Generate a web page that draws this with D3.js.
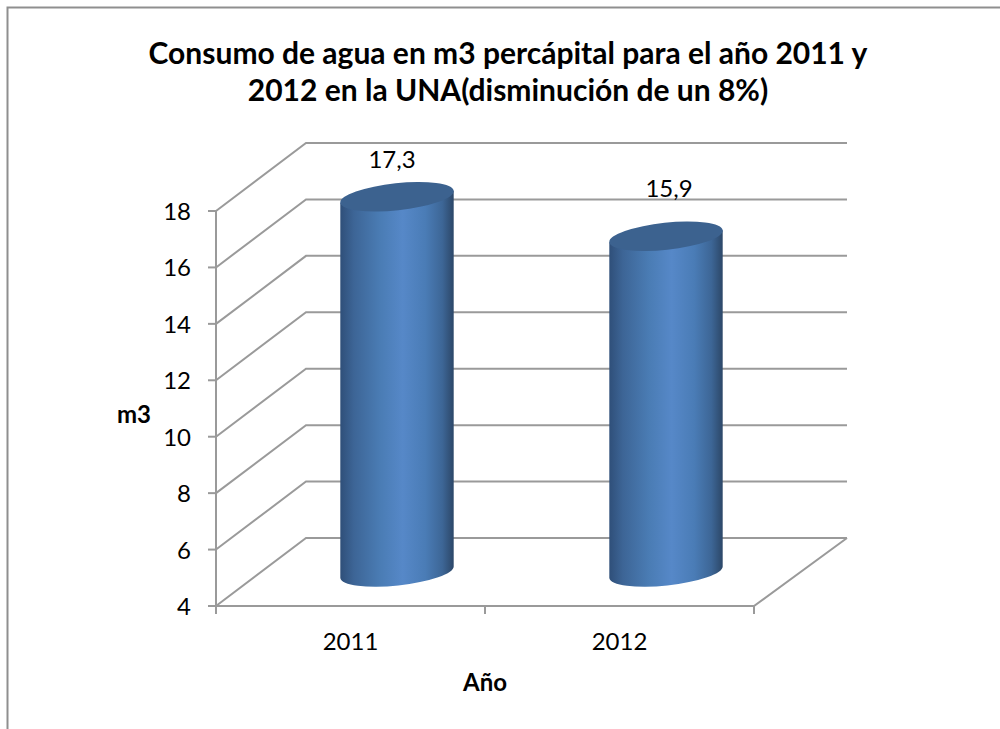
<!DOCTYPE html>
<html><head><meta charset="utf-8">
<script src="https://cdnjs.cloudflare.com/ajax/libs/d3/7.8.5/d3.min.js"></script>
<style>html,body{margin:0;padding:0;background:#fff}svg{display:block}text{font-family:Lato,"Open Sans",sans-serif;fill:#000}</style>
</head><body><svg width="1000" height="729"></svg>
<script>
const categories = ["2011", "2012"];
const values = [17.3, 15.9];
const valueLabels = ["17,3", "15,9"];
const yTicks = [4, 6, 8, 10, 12, 14, 16, 18];
const titleLines = ["Consumo de agua en m3 percápital para el año 2011 y", "2012 en la UNA(disminución de un 8%)"];

const svg = d3.select("svg");
const y = d3.scaleLinear().domain([4, 18]).range([606, 211]);
const x = d3.scaleBand().domain(categories).range([216, 754]);
const depthX = 90, depthY = -68;
const gray = "#9a9a9a";

const defs = svg.append("defs");
const grad = defs.append("linearGradient").attr("id", "cyl").attr("x1", 0).attr("x2", 1).attr("y1", 0).attr("y2", 0);
[[0, "#2f4f79"], [0.12, "#3d6596"], [0.35, "#4a7cb4"], [0.55, "#5688c8"], [0.75, "#4a7cb6"], [0.9, "#3d6696"], [1, "#2c4768"]]
  .forEach(([o, c]) => grad.append("stop").attr("offset", o).attr("stop-color", c));

// frame
svg.append("path").attr("d", "M7.5,729V7.5H1000").attr("fill", "none").attr("stroke", "#8f8f8f").attr("stroke-width", 2);

// back wall gridlines and side wall
const grid = svg.append("g").attr("fill", "none").attr("stroke", gray).attr("stroke-width", 2);
yTicks.forEach(t => {
  grid.append("path").attr("d", `M${x.range()[0]},${y(t)}L${x.range()[0] + depthX},${y(t) + depthY}H${x.range()[1] + 93}`);
});
// floor
grid.append("path").attr("d", `M${x.range()[0]},${y(4)}H${x.range()[1]}L${x.range()[1] + 93},${y(4) + depthY}`);
// y axis + ticks
grid.append("path").attr("d", `M${x.range()[0]},${y(18)}V${y(4) + 8}`);
yTicks.forEach(t => grid.append("path").attr("d", `M${x.range()[0] - 8},${y(t)}H${x.range()[0]}`));
// x ticks
[x.range()[0], x.range()[0] + x.step(), x.range()[1]].forEach(p =>
  grid.append("path").attr("d", `M${p},${y(4)}v8`));

// y tick labels
svg.append("g").selectAll("text").data(yTicks).join("text")
  .attr("x", 191).attr("y", d => y(d) + 9).attr("text-anchor", "end").attr("font-size", 24).text(d => d);

// cylinders
const rx = 57, ry = 13.5, rot = -6, dy = 0.5 * depthY;
const cx = c => x(c) + x.bandwidth() / 2 + depthX / 2 + 1.5;
const a = rot * Math.PI / 180;
const ex = rx * Math.cos(a), ey = rx * Math.sin(a);
const bars = svg.append("g").selectAll("g").data(categories).join("g");
bars.append("path")
  .attr("fill", "url(#cyl)")
  .attr("d", (c, i) => {
    const top = y(values[i]) + dy, bot = y(4) + dy;
    return `M${cx(c) - ex},${top - ey}L${cx(c) - ex},${bot - ey}A${rx},${ry} ${rot} 0 0 ${cx(c) + ex},${bot + ey}L${cx(c) + ex},${top + ey}Z`;
  });
bars.append("ellipse")
  .attr("fill", "#3c628f")
  .attr("rx", rx).attr("ry", ry)
  .attr("transform", (c, i) => `translate(${cx(c)},${y(values[i]) + dy}) rotate(${rot})`);

// value labels
svg.append("g").selectAll("text").data(categories).join("text")
  .attr("x", (c, i) => cx(c) + [-5, 3][i])
  .attr("y", (c, i) => y(values[i]) + dy + [-29, -39][i])
  .attr("text-anchor", "middle").attr("font-size", 24)
  .text((c, i) => valueLabels[i]);

// category labels
svg.append("g").selectAll("text").data(categories).join("text")
  .attr("x", c => x(c) + x.bandwidth() / 2).attr("y", 650)
  .attr("text-anchor", "middle").attr("font-size", 24).text(c => c);

// axis titles
svg.append("text").attr("x", 485).attr("y", 691).attr("text-anchor", "middle").attr("font-size", 24).attr("font-weight", 700).text("Año");
svg.append("text").attr("x", 134).attr("y", 423).attr("text-anchor", "middle").attr("font-size", 24).attr("font-weight", 700).text("m3");

// title
svg.append("g").selectAll("text").data(titleLines).join("text")
  .attr("x", 508).attr("y", (d, i) => 64 + i * 37)
  .attr("text-anchor", "middle").attr("font-size", 30).attr("font-weight", 700).text(d => d);
</script></body></html>
